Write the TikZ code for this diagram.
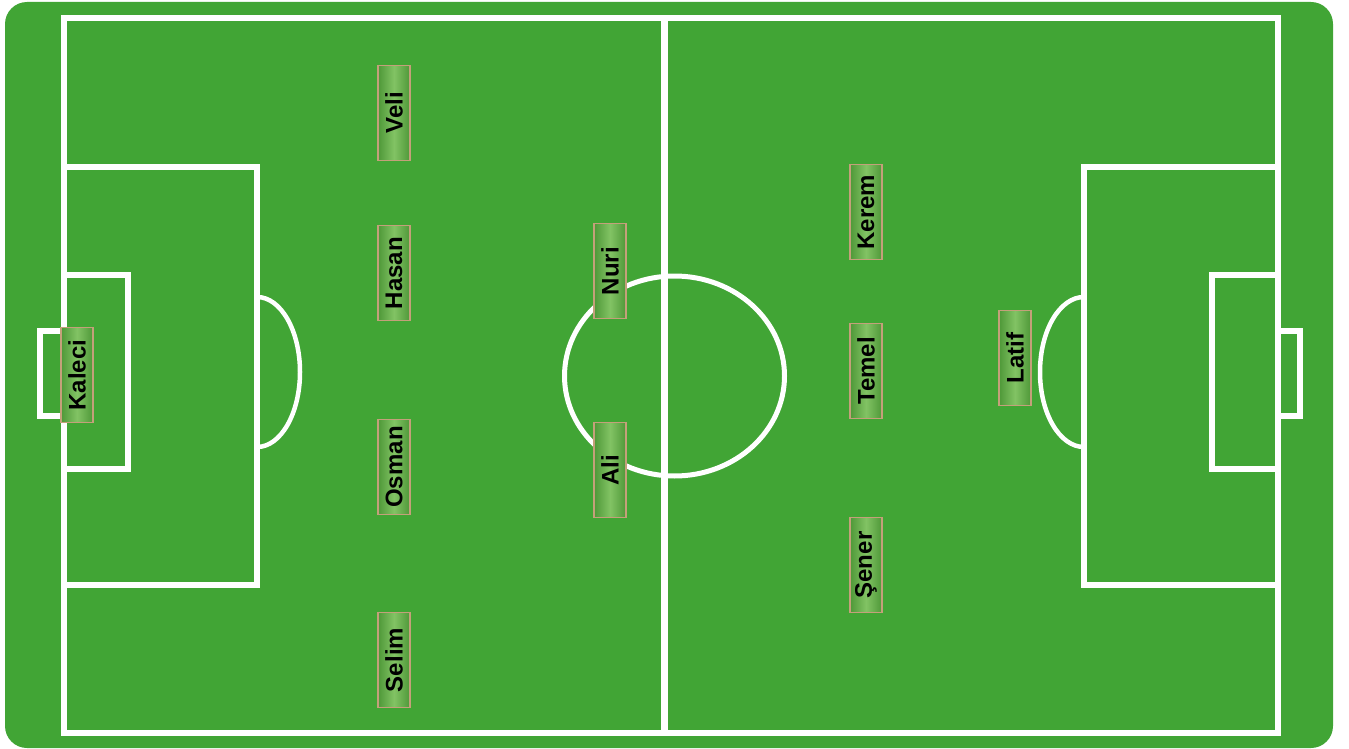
\documentclass[tikz,border=0pt]{standalone}
\usepackage{fontspec}
\setmainfont{Liberation Sans}
\usepackage{graphicx}
\definecolor{pitch}{RGB}{65,165,53}
\definecolor{tagedge}{RGB}{78,152,56}
\definecolor{taglight}{RGB}{130,195,100}
\definecolor{tagborder}{RGB}{196,160,122}
\tikzset{
  line/.style={draw=white, line width=6pt},
  thinline/.style={draw=white, line width=5pt},
  player/.style={draw=tagborder, line width=1.3pt, minimum width=32pt, minimum height=95pt,
    inner sep=0pt, left color=tagedge, right color=tagedge, middle color=taglight,
    font=\fontsize{24}{26}\selectfont\bfseries, text=black}
}
\newcommand{\pname}[1]{\rotatebox{90}{#1}}
\begin{document}
\begin{tikzpicture}[x=1pt,y=-1pt]
\useasboundingbox (0,0) rectangle (1349,749);
% background
\fill[pitch, rounded corners=22pt] (5,2) rectangle (1333,748);
% outer lines
\draw[line] (64,18) rectangle (1278,733);
\draw[draw=white, line width=7pt] (664,18) -- (664,733);
% center circle
\draw[thinline] (674.5,376) ellipse [x radius=110, y radius=100];
% left side
\draw[line] (64,167) -- (257,167) -- (257,585) -- (64,585);
\draw[line] (64,275) -- (128,275) -- (128,469) -- (64,469);
\draw[line] (64,331) -- (40,331) -- (40,416) -- (64,416);
\draw[draw=white, line width=4.5pt] (257,297) arc[start angle=-90, end angle=90, x radius=43, y radius=75];
% right side
\draw[line] (1278,167) -- (1084,167) -- (1084,585) -- (1278,585);
\draw[line] (1278,275) -- (1212,275) -- (1212,469) -- (1278,469);
\draw[line] (1278,331) -- (1300,331) -- (1300,416) -- (1278,416);
\draw[draw=white, line width=4.5pt] (1084,297) arc[start angle=-90, end angle=-270, x radius=44, y radius=75];
% players
\node[player] (veli)   at (394,113) {\pname{Veli}};
\node[player] (hasan)  at (394,273) {\pname{Hasan}};
\node[player] (osman)  at (394,467) {\pname{Osman}};
\node[player] (selim)  at (394,660) {\pname{Selim}};
\node[player] (kaleci) at (77,375)  {\pname{Kaleci}};
\node[player] (nuri)   at (610,271) {\pname{Nuri}};
\node[player] (ali)    at (610,470) {\pname{Ali}};
\node[player] (kerem)  at (866,212) {\pname{Kerem}};
\node[player] (temel)  at (866,371) {\pname{Temel}};
\node[player] (sener)  at (866,565) {\pname{Şener}};
\node[player] (latif)  at (1015,358) {\pname{Latif}};
\end{tikzpicture}
\end{document}
